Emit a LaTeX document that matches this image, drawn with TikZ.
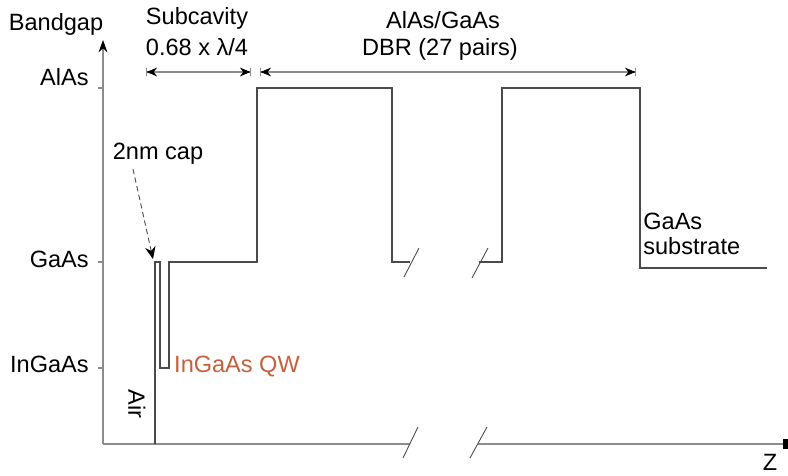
\documentclass[tikz,border=0pt]{standalone}
\usepackage{fontspec}
\setmainfont{Liberation Sans}
\usepackage{tikz}
\usetikzlibrary{arrows.meta}
\definecolor{axisgray}{HTML}{8C8C8C}
\definecolor{bandline}{HTML}{4A4A4A}
\definecolor{qwtext}{HTML}{C5603A}

\begin{document}
\begin{tikzpicture}[x=0.02cm, y=-0.02cm,
  axis/.style={axisgray, line width=0.6pt},
  band/.style={bandline, line width=0.6pt},
  breakmark/.style={bandline, line width=0.5pt},
  dim/.style={axisgray, line width=0.6pt,
              {Bar[width=5pt,line width=0.3pt]Stealth[length=6pt,width=5pt,black]}-{Stealth[length=6pt,width=5pt,black]Bar[width=5pt,line width=0.3pt]}},
  label/.style={font=\fontsize{13.4}{15}\selectfont, inner sep=0pt},
  ticklabel/.style={label, anchor=south east},
]
\useasboundingbox (0,0) rectangle (788,476);

% axes
\coordinate (origin) at (103,444);
\coordinate (ytop) at (103,40);
\coordinate (xbreakL) at (410,444);
\coordinate (xbreakR) at (478,444);
\coordinate (xend) at (788,444);
\draw[axis, -{Stealth[length=7pt,width=5pt,black]}] (origin) -- (ytop);
\draw[axis] (origin) -- (xbreakL);
\draw[axis, -{Rectangle[length=3pt,width=6pt,black]}] (xbreakR) -- (xend);
\draw[breakmark] (403,458) -- (418,427);
\draw[breakmark] (470,458) -- (487,427);

% ticks
\foreach \yy in {88, 262, 368}
  \draw[axis] (98,\yy) -- (103,\yy);
\node[ticklabel] (lAlAs) at (89,86) {AlAs};
\node[ticklabel] (lGaAs) at (89,268) {GaAs};
\node[ticklabel] (lInGaAs) at (89,373) {InGaAs};
\node[label] (ylab) at (56,24) {Bandgap};
\node[label] (zlab) at (770,462) {Z};

% band profile
\draw[band] (155,444) -- (155,262) -- (160,262) -- (160,368) -- (169,368)
  -- (169,262) -- (257,262) -- (257,88) -- (392,88) -- (392,262) -- (410,262);
\draw[breakmark] (404,277) -- (419,248);
\draw[breakmark] (472,278) -- (488,248);
\draw[band] (479,262) -- (502,262) -- (502,88) -- (640,88) -- (640,268) -- (767,268);

% dimension arrows
\coordinate (subL) at (146,72);
\coordinate (subR) at (251,72);
\coordinate (dbrL) at (260,72);
\coordinate (dbrR) at (636,72);
\draw[dim] (subL) -- (subR);
\draw[dim] (dbrL) -- (dbrR);
\node[label] (sub1) at (197,18) {Subcavity};
\node[label] (sub2) at (197,47) {0.68 x λ/4};
\node[label] (dbr1) at (443,20) {AlAs/GaAs};
\node[label] (dbr2) at (440,49) {DBR (27 pairs)};

% layer labels
\node[label] (cap) at (158,154) {2nm cap};
\coordinate (captail) at (133,169);
\coordinate (captip) at (153,259);
\draw[bandline, densely dashed, line width=0.5pt, -{Stealth[length=7pt,width=6pt,black]}]
  (captail) -- (captip);
\node[label, text=qwtext] (qw) at (237,367) {InGaAs QW};
\node[label, rotate=-90] (air) at (137,404) {Air};
\node[label, anchor=north west, align=left] (sub) at (643,213) {GaAs\\[-1pt]substrate};

\end{tikzpicture}
\end{document}
